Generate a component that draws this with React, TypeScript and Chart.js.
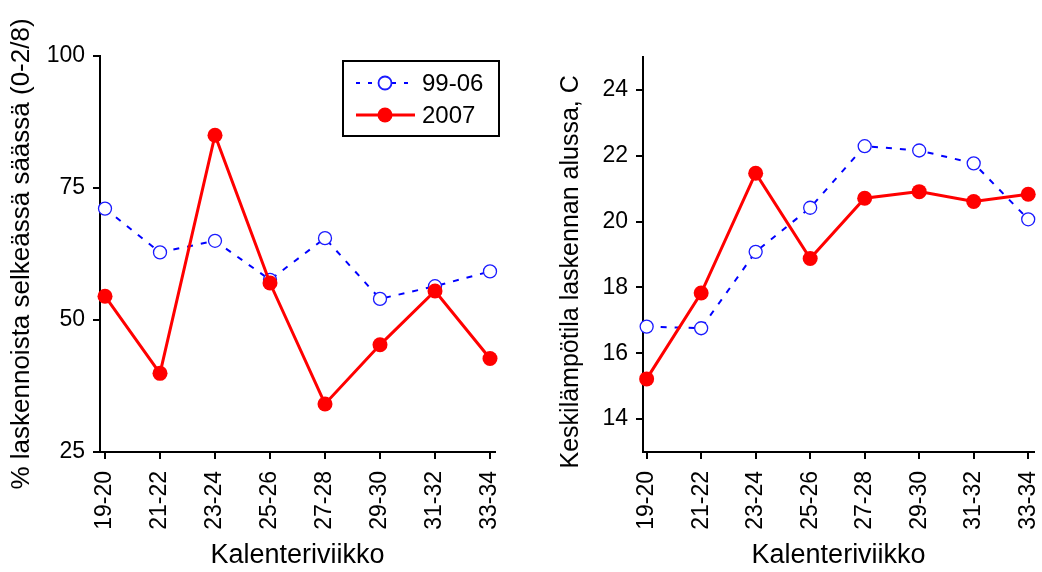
import React, { useEffect, useRef } from 'react';
import { Chart, registerables } from 'chart.js';

Chart.register(...registerables);

// ---- data ----
const weeks = ['19-20', '21-22', '23-24', '25-26', '27-28', '29-30', '31-32', '33-34'];
const seriesNames = ['99-06', '2007'];
const clearPct9906 = [71.1, 62.8, 65.0, 57.6, 65.5, 54.0, 56.4, 59.2];
const clearPct2007 = [54.5, 39.9, 85.0, 57.0, 34.1, 45.3, 55.5, 42.7];
const temp9906 = [16.81, 16.76, 19.08, 20.42, 22.29, 22.16, 21.77, 20.07];
const temp2007 = [15.22, 17.83, 21.47, 18.88, 20.71, 20.91, 20.61, 20.83];
const leftTicks = [25, 50, 75, 100];
const rightTicks = [14, 16, 18, 20, 22, 24];
const xTitle = 'Kalenteriviikko';
const leftYTitle = '% laskennoista selkeässä säässä (0-2/8)';
const rightYTitle = 'Keskilämpötila laskennan alussa, C';

const FONT = "'Liberation Sans', Arial, Helvetica, sans-serif";

const boxLegend = {
  id: 'boxLegend',
  afterDatasetsDraw(chart: any, _args: any, opts: any) {
    if (!opts || !opts.display) return;
    const ctx = chart.ctx;
    const ca = chart.chartArea;
    const w = opts.width;
    const h = opts.height;
    const x0 = ca.right + opts.offsetRight - w;
    const y0 = ca.top + opts.offsetTop;
    ctx.save();
    ctx.strokeStyle = '#000';
    ctx.lineWidth = 2;
    ctx.setLineDash([]);
    ctx.strokeRect(x0, y0, w, h);
    const items = [...chart.data.datasets].sort(
      (a: any, b: any) => seriesNames.indexOf(a.label) - seriesNames.indexOf(b.label)
    );
    items.forEach((ds: any, i: number) => {
      const cy = y0 + opts.rowStart + i * opts.rowGap;
      ctx.beginPath();
      ctx.strokeStyle = ds.borderColor;
      ctx.lineWidth = ds.borderWidth;
      ctx.setLineDash(ds.borderDash ? [4, 8] : []);
      ctx.moveTo(x0 + 13, cy);
      ctx.lineTo(x0 + 72, cy);
      ctx.stroke();
      ctx.setLineDash([]);
      ctx.beginPath();
      ctx.arc(x0 + 42, cy, ds.pointRadius, 0, Math.PI * 2);
      ctx.fillStyle = ds.pointBackgroundColor;
      ctx.fill();
      if (ds.pointBorderWidth > 0) {
        ctx.lineWidth = ds.pointBorderWidth + 0.5;
        ctx.strokeStyle = ds.pointBorderColor;
        ctx.stroke();
      }
      ctx.fillStyle = '#000';
      ctx.font = `24px ${FONT}`;
      ctx.textBaseline = 'middle';
      ctx.textAlign = 'left';
      ctx.fillText(ds.label, x0 + 79, cy + 1);
    });
    ctx.restore();
  },
};

function makeDatasets(vals9906: number[], vals2007: number[]) {
  return [
    {
      label: seriesNames[0],
      data: vals9906.map((v, i) => ({ x: i, y: v })),
      borderColor: '#0000ff',
      borderWidth: 2,
      borderDash: [6, 8],
      pointRadius: 6.5,
      pointBorderWidth: 1.3,
      pointBorderColor: '#1a1aff',
      pointBackgroundColor: '#ffffff',
      tension: 0,
      clip: false as any,
      order: 1,
    },
    {
      label: seriesNames[1],
      data: vals2007.map((v, i) => ({ x: i, y: v })),
      borderColor: '#ff0000',
      borderWidth: 3,
      pointRadius: 7.5,
      pointBorderWidth: 0,
      pointBorderColor: '#ff0000',
      pointBackgroundColor: '#ff0000',
      tension: 0,
      clip: false as any,
      order: 0,
    },
  ];
}

function makeOptions(p: {
  yMin: number;
  yMax: number;
  yTicks: number[];
  yTitle: string;
  yTitleSize: number;
  yWidth: number;
  xMin: number;
  xMax: number;
  padLeft: number;
  padRight: number;
  padTop: number;
  legend: boolean;
}) {
  return {
    responsive: false,
    animation: false as const,
    layout: { padding: { left: p.padLeft, right: p.padRight, top: p.padTop, bottom: 0 } },
    plugins: {
      legend: { display: false },
      tooltip: { enabled: false },
      boxLegend: {
        display: p.legend,
        width: 156,
        height: 75,
        offsetRight: 4,
        offsetTop: 5,
        rowStart: 22,
        rowGap: 32,
      },
    },
    scales: {
      x: {
        type: 'linear' as const,
        min: p.xMin,
        max: p.xMax,
        afterBuildTicks: (s: any) => {
          s.ticks = weeks.map((_, i) => ({ value: i }));
        },
        afterFit: (s: any) => {
          s.height = 120;
          s.paddingLeft = 0;
          s.paddingRight = 0;
        },
        border: { display: true, color: '#000', width: 2 },
        grid: { drawOnChartArea: false, drawTicks: true, tickLength: 7, color: '#000', lineWidth: 2 },
        ticks: {
          autoSkip: false,
          minRotation: 90,
          maxRotation: 90,
          padding: 12,
          color: '#000',
          font: { size: 23, family: FONT },
          callback: (v: any) => weeks[v] ?? '',
        },
        title: {
          display: true,
          text: xTitle,
          color: '#000',
          font: { size: 27, family: FONT },
          padding: { top: 0, bottom: 0 },
        },
      },
      y: {
        type: 'linear' as const,
        min: p.yMin,
        max: p.yMax,
        afterBuildTicks: (s: any) => {
          s.ticks = p.yTicks.map((v) => ({ value: v }));
        },
        afterFit: (s: any) => {
          s.width = p.yWidth;
          s.paddingTop = 0;
          s.paddingBottom = 0;
        },
        border: { display: true, color: '#000', width: 2 },
        grid: { drawOnChartArea: false, drawTicks: true, tickLength: 7, color: '#000', lineWidth: 2 },
        ticks: {
          padding: 8,
          color: '#000',
          font: { size: 23, family: FONT },
        },
        title: {
          display: true,
          text: p.yTitle,
          color: '#000',
          font: { size: p.yTitleSize, family: FONT },
          padding: { top: 0, bottom: 0 },
        },
      },
    },
  };
}

function LineChart({ config }: { config: any }) {
  const ref = useRef<HTMLCanvasElement | null>(null);
  useEffect(() => {
    if (!ref.current) return;
    const chart = new Chart(ref.current, config);
    return () => chart.destroy();
  }, [config]);
  return <canvas ref={ref} width={521} height={572} style={{ display: 'block' }} />;
}

const leftConfig = {
  type: 'line',
  data: { datasets: makeDatasets(clearPct9906, clearPct2007) },
  options: makeOptions({
    yMin: 25,
    yMax: 100,
    yTicks: leftTicks,
    yTitle: leftYTitle,
    yTitleSize: 26,
    yWidth: 94,
    xMin: -0.091,
    xMax: 7.091,
    padLeft: 6,
    padRight: 26,
    padTop: 56,
    legend: true,
  }),
  plugins: [boxLegend],
};

const rightConfig = {
  type: 'line',
  data: { datasets: makeDatasets(temp9906, temp2007) },
  options: makeOptions({
    yMin: 13,
    yMax: 25,
    yTicks: rightTicks,
    // trailing spaces shift the centred title down to where the reference places it
    yTitle: rightYTitle + '\u00a0'.repeat(5),
    yTitleSize: 25,
    yWidth: 87,
    xMin: -0.067,
    xMax: 7.11,
    padLeft: 35,
    padRight: 5,
    padTop: 57,
    legend: false,
  }),
  plugins: [boxLegend],
};

export default function App() {
  return (
    <div
      style={{
        position: 'fixed',
        left: 0,
        top: 0,
        width: 1042,
        height: 572,
        display: 'flex',
        background: '#fff',
      }}
    >
      <LineChart config={leftConfig} />
      <LineChart config={rightConfig} />
    </div>
  );
}
